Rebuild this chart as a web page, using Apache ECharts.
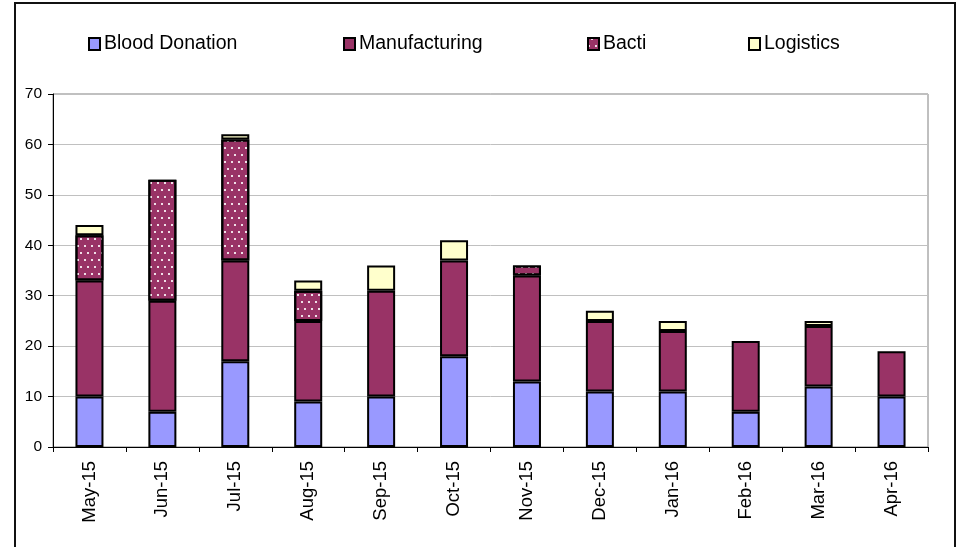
<!DOCTYPE html>
<html>
<head>
<meta charset="utf-8">
<script src="https://cdn.jsdelivr.net/npm/echarts@6/dist/echarts.min.js"></script>
<style>
html,body{margin:0;padding:0;background:#fff;}
#c{width:957px;height:547px;}
</style>
</head>
<body>
<div id="c"></div>
<script>
var categories = ['May-15','Jun-15','Jul-15','Aug-15','Sep-15','Oct-15','Nov-15','Dec-15','Jan-16','Feb-16','Mar-16','Apr-16'];
var bloodDonation = [10, 7, 17, 9, 10, 18, 13, 11, 11, 7, 12, 10];
var manufacturing = [23, 22, 20, 16, 21, 19, 21, 14, 12, 14, 12, 9];
var bacti = [9, 24, 24, 6, 0, 0, 2, 0, 0, 0, 0, 0];
var logistics = [2, 0, 1, 2, 5, 4, 0, 2, 2, 0, 1, 0];
var yTicks = [0, 10, 20, 30, 40, 50, 60, 70];

var FONT = '"Liberation Sans", Arial, sans-serif';
function nz(arr){ return arr.map(function(v){ return v === 0 ? '-' : v; }); }

var chart = echarts.init(document.getElementById('c'), null, {renderer:'canvas'});
var border = {borderColor:'#000', borderWidth:2};
var dotDecal = {
  symbol:'rect', symbolSize:1, color:'rgba(255,255,255,0.85)',
  dashArrayX:[[1.2,4.8],[0,3,1.2,1.8]], dashArrayY:[1.2,4.5]
};
function legendItem(name, left){
  return {
    data:[name], left:left, top:34, itemWidth:11, itemHeight:12, itemGap:0,
    padding:0, icon:'rect',
    textStyle:{fontFamily:FONT, fontSize:19.5, color:'#000', padding:[0,0,0,-1]}
  };
}
chart.setOption({
  animation:false,
  backgroundColor:'#fff',
  graphic:[{type:'rect', shape:{x:15, y:3, width:940, height:600}, style:{fill:'none', stroke:'#111', lineWidth:2}, silent:true}],
  legend:[legendItem('Blood Donation',88), legendItem('Manufacturing',343), legendItem('Bacti',587), legendItem('Logistics',748)],
  grid:{left:53, right:29, top:94, bottom:100, show:true, borderColor:'#808080', borderWidth:1, backgroundColor:'transparent'},
  xAxis:{
    type:'category', data:categories, boundaryGap:true,
    axisLine:{lineStyle:{color:'#000', width:1}},
    axisTick:{show:true, length:5, alignWithLabel:false, lineStyle:{color:'#000'}},
    axisLabel:{rotate:90, margin:14, fontFamily:FONT, fontSize:18.5, color:'#000'}
  },
  yAxis:{
    type:'value', min:yTicks[0], max:yTicks[yTicks.length-1], interval:10,
    axisLine:{show:true, lineStyle:{color:'#000', width:1}},
    axisTick:{show:true, length:5, lineStyle:{color:'#000'}},
    axisLabel:{margin:11, fontFamily:FONT, fontSize:15.5, color:'#000'},
    splitLine:{show:true, lineStyle:{color:'#c0c0c0', width:1}}
  },
  series:[
    {name:'Blood Donation', type:'bar', stack:'t', barWidth:28, data:nz(bloodDonation), itemStyle:Object.assign({color:'#9999ff'}, border)},
    {name:'Manufacturing', type:'bar', stack:'t', barWidth:28, data:nz(manufacturing), itemStyle:Object.assign({color:'#993366'}, border)},
    {name:'Bacti', type:'bar', stack:'t', barWidth:28, data:nz(bacti), itemStyle:Object.assign({color:'#993366', decal:dotDecal}, border)},
    {name:'Logistics', type:'bar', stack:'t', barWidth:28, data:nz(logistics), itemStyle:Object.assign({color:'#ffffcc'}, border)}
  ]
});
</script>
</body>
</html>
